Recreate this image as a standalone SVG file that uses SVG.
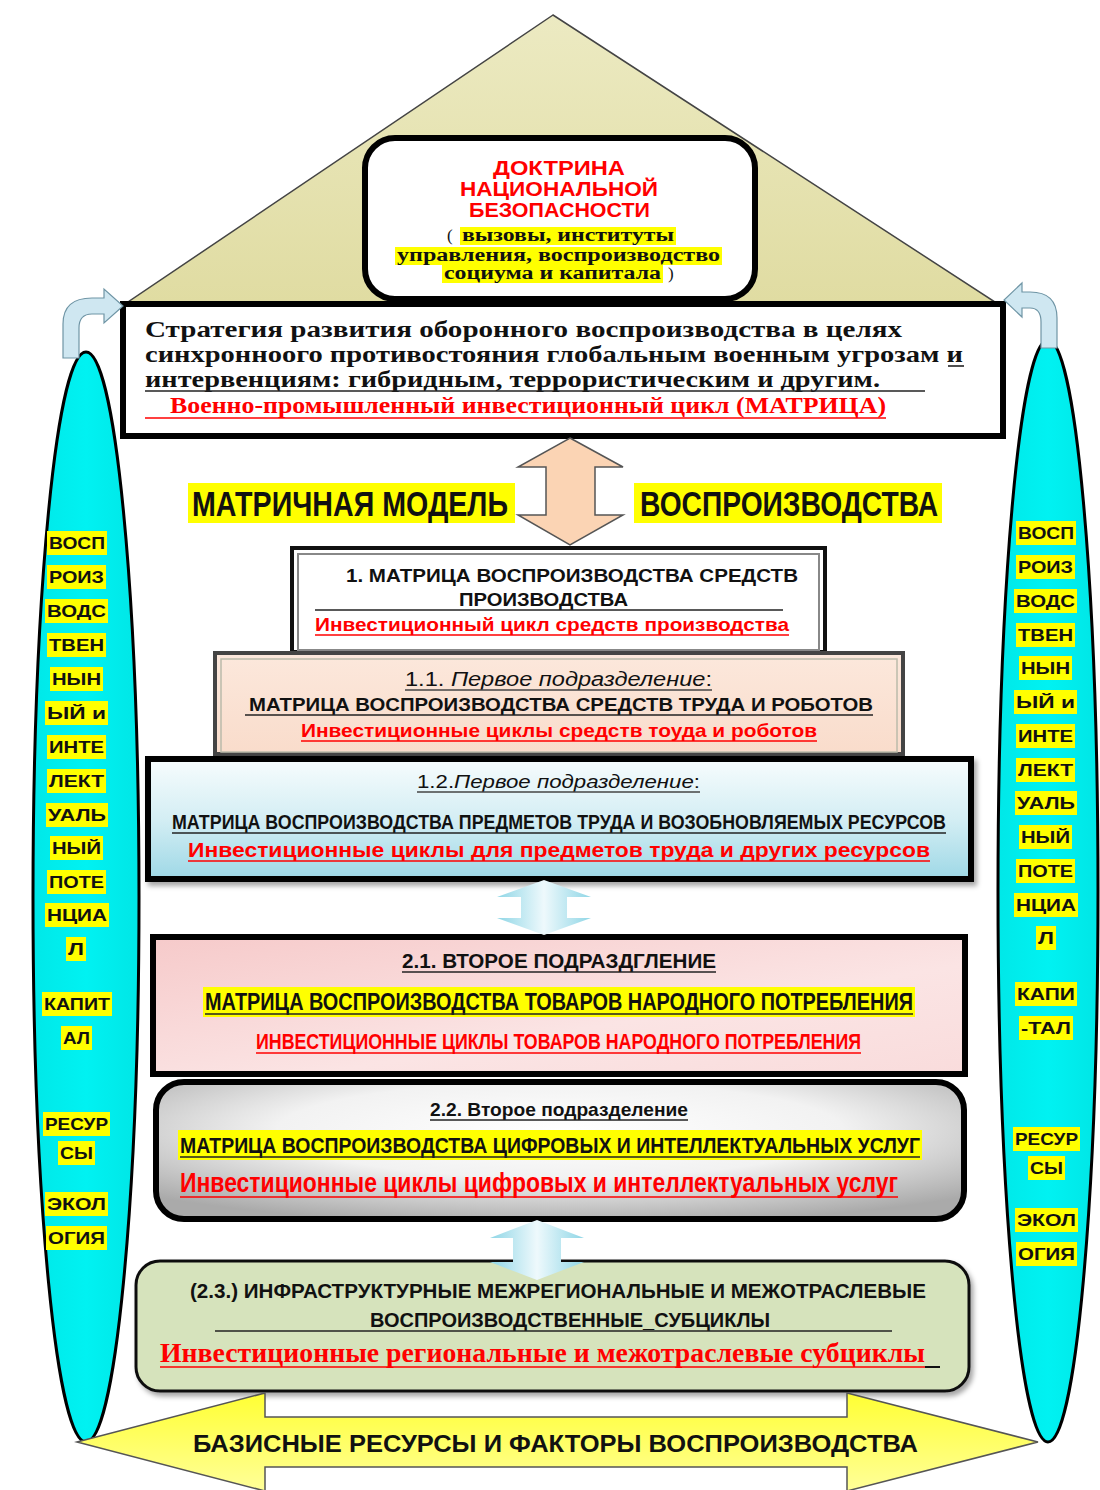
<svg xmlns="http://www.w3.org/2000/svg" width="1100" height="1490" viewBox="0 0 1100 1490">
<defs>
<style>
.sans{font-family:"Liberation Sans",Arial,sans-serif}
.serif{font-family:"Liberation Serif","Times New Roman",serif}
.b{font-weight:bold}
.i{font-style:italic}
.red{fill:#ff0000}
.blk{fill:#111}
.hl{fill:#ffff00}
.ul{stroke:#222;stroke-width:1.6}
.ulr{stroke:#ff0000;stroke-width:1.6}
.side{font-family:"Liberation Sans",Arial,sans-serif;font-weight:bold;font-size:16.5px;fill:#111}
.ell{fill:url(#cyan);stroke:#000;stroke-width:3}
</style>
<linearGradient id="roof" x1="0" y1="0" x2="0" y2="1"><stop offset="0" stop-color="#eceac2"/><stop offset="1" stop-color="#e0dca2"/></linearGradient>
<linearGradient id="cyan" x1="0" y1="0" x2="1" y2="0"><stop offset="0" stop-color="#00e8e8"/><stop offset="0.5" stop-color="#00f2f2"/><stop offset="1" stop-color="#00e6e6"/></linearGradient>
<linearGradient id="peachbox" x1="0" y1="0" x2="0" y2="1"><stop offset="0" stop-color="#fce8dc"/><stop offset="1" stop-color="#f9dccb"/></linearGradient>
<linearGradient id="bluebox" x1="0" y1="0" x2="0" y2="1"><stop offset="0" stop-color="#f7fcfd"/><stop offset="0.5" stop-color="#d4eef4"/><stop offset="1" stop-color="#9ed8e6"/></linearGradient>
<linearGradient id="pinkbox" x1="0" y1="0" x2="1" y2="1"><stop offset="0" stop-color="#f6caca"/><stop offset="0.6" stop-color="#fbe4e4"/><stop offset="1" stop-color="#f9dcdc"/></linearGradient>
<radialGradient id="greybox" cx="0.5" cy="0.35" r="0.7"><stop offset="0" stop-color="#ffffff"/><stop offset="0.5" stop-color="#f2f2f2"/><stop offset="1" stop-color="#aaaaaa"/></radialGradient>
<linearGradient id="bluearrow" x1="0" y1="0" x2="1" y2="0"><stop offset="0" stop-color="#8fd6e6"/><stop offset="0.5" stop-color="#eef9fc"/><stop offset="1" stop-color="#8fd6e6"/></linearGradient>
<linearGradient id="yel" x1="0" y1="0" x2="0" y2="1"><stop offset="0" stop-color="#ffff33"/><stop offset="1" stop-color="#ffff99"/></linearGradient>
<filter id="sh" x="-5%" y="-5%" width="110%" height="120%"><feDropShadow dx="3" dy="4" stdDeviation="2.5" flood-color="#000" flood-opacity="0.35"/></filter>
</defs>
<rect width="1100" height="1490" fill="#ffffff"/>

<g id="roof">
<polygon points="553,15 128,302 995,302" fill="url(#roof)" stroke="#444" stroke-width="1.5"/>
</g>

<g id="left-pillar">
<ellipse class="ell" cx="86" cy="897" rx="53" ry="545"/>
<rect class="hl" x="47" y="531" width="60" height="24"/><text class="side" x="49" y="549" textLength="56" lengthAdjust="spacingAndGlyphs">ВОСП</text>
<rect class="hl" x="47" y="565" width="59" height="24"/><text class="side" x="49" y="583" textLength="55" lengthAdjust="spacingAndGlyphs">РОИЗ</text>
<rect class="hl" x="45" y="599" width="63" height="24"/><text class="side" x="47" y="617" textLength="59" lengthAdjust="spacingAndGlyphs">ВОДС</text>
<rect class="hl" x="47" y="633" width="59" height="24"/><text class="side" x="49" y="651" textLength="55" lengthAdjust="spacingAndGlyphs">ТВЕН</text>
<rect class="hl" x="50" y="667" width="53" height="24"/><text class="side" x="52" y="685" textLength="49" lengthAdjust="spacingAndGlyphs">НЫН</text>
<rect class="hl" x="45" y="701" width="63" height="24"/><text class="side" x="47" y="719" textLength="59" lengthAdjust="spacingAndGlyphs">ЫЙ  и</text>
<rect class="hl" x="47" y="735" width="59" height="24"/><text class="side" x="49" y="753" textLength="55" lengthAdjust="spacingAndGlyphs">ИНТЕ</text>
<rect class="hl" x="47" y="769" width="59" height="24"/><text class="side" x="49" y="787" textLength="55" lengthAdjust="spacingAndGlyphs">ЛЕКТ</text>
<rect class="hl" x="46" y="803" width="62" height="24"/><text class="side" x="48" y="821" textLength="58" lengthAdjust="spacingAndGlyphs">УАЛЬ</text>
<rect class="hl" x="50" y="836" width="53" height="24"/><text class="side" x="52" y="854" textLength="49" lengthAdjust="spacingAndGlyphs">НЫЙ</text>
<rect class="hl" x="47" y="870" width="59" height="24"/><text class="side" x="49" y="888" textLength="55" lengthAdjust="spacingAndGlyphs">ПОТЕ</text>
<rect class="hl" x="45" y="903" width="64" height="24"/><text class="side" x="47" y="921" textLength="60" lengthAdjust="spacingAndGlyphs">НЦИА</text>
<rect class="hl" x="66" y="937" width="20" height="24"/><text class="side" x="68" y="955" textLength="16" lengthAdjust="spacingAndGlyphs">Л</text>
<rect class="hl" x="42" y="992" width="70" height="24"/><text class="side" x="44" y="1010" textLength="66" lengthAdjust="spacingAndGlyphs">КАПИТ</text>
<rect class="hl" x="61" y="1026" width="31" height="24"/><text class="side" x="63" y="1044" textLength="27" lengthAdjust="spacingAndGlyphs">АЛ</text>
<rect class="hl" x="43" y="1112" width="67" height="24"/><text class="side" x="45" y="1130" textLength="63" lengthAdjust="spacingAndGlyphs">РЕСУР</text>
<rect class="hl" x="58" y="1141" width="37" height="24"/><text class="side" x="60" y="1159" textLength="33" lengthAdjust="spacingAndGlyphs">СЫ</text>
<rect class="hl" x="45" y="1192" width="63" height="24"/><text class="side" x="47" y="1210" textLength="59" lengthAdjust="spacingAndGlyphs">ЭКОЛ</text>
<rect class="hl" x="46" y="1226" width="61" height="24"/><text class="side" x="48" y="1244" textLength="57" lengthAdjust="spacingAndGlyphs">ОГИЯ</text>
</g>

<g id="right-pillar">
<ellipse class="ell" cx="1048" cy="891" rx="50" ry="551"/>
<rect class="hl" x="1016" y="521" width="60" height="24"/><text class="side" x="1018" y="539" textLength="56" lengthAdjust="spacingAndGlyphs">ВОСП</text>
<rect class="hl" x="1016" y="555" width="59" height="24"/><text class="side" x="1018" y="573" textLength="55" lengthAdjust="spacingAndGlyphs">РОИЗ</text>
<rect class="hl" x="1014" y="589" width="63" height="24"/><text class="side" x="1016" y="607" textLength="59" lengthAdjust="spacingAndGlyphs">ВОДС</text>
<rect class="hl" x="1016" y="623" width="59" height="24"/><text class="side" x="1018" y="641" textLength="55" lengthAdjust="spacingAndGlyphs">ТВЕН</text>
<rect class="hl" x="1019" y="656" width="53" height="24"/><text class="side" x="1021" y="674" textLength="49" lengthAdjust="spacingAndGlyphs">НЫН</text>
<rect class="hl" x="1014" y="690" width="63" height="24"/><text class="side" x="1016" y="708" textLength="59" lengthAdjust="spacingAndGlyphs">ЫЙ  и</text>
<rect class="hl" x="1016" y="724" width="59" height="24"/><text class="side" x="1018" y="742" textLength="55" lengthAdjust="spacingAndGlyphs">ИНТЕ</text>
<rect class="hl" x="1016" y="758" width="59" height="24"/><text class="side" x="1018" y="776" textLength="55" lengthAdjust="spacingAndGlyphs">ЛЕКТ</text>
<rect class="hl" x="1015" y="791" width="62" height="24"/><text class="side" x="1017" y="809" textLength="58" lengthAdjust="spacingAndGlyphs">УАЛЬ</text>
<rect class="hl" x="1019" y="825" width="53" height="24"/><text class="side" x="1021" y="843" textLength="49" lengthAdjust="spacingAndGlyphs">НЫЙ</text>
<rect class="hl" x="1016" y="859" width="59" height="24"/><text class="side" x="1018" y="877" textLength="55" lengthAdjust="spacingAndGlyphs">ПОТЕ</text>
<rect class="hl" x="1014" y="893" width="64" height="24"/><text class="side" x="1016" y="911" textLength="60" lengthAdjust="spacingAndGlyphs">НЦИА</text>
<rect class="hl" x="1036" y="926" width="20" height="24"/><text class="side" x="1038" y="944" textLength="16" lengthAdjust="spacingAndGlyphs">Л</text>
<rect class="hl" x="1015" y="982" width="62" height="24"/><text class="side" x="1017" y="1000" textLength="58" lengthAdjust="spacingAndGlyphs">КАПИ</text>
<rect class="hl" x="1019" y="1016" width="54" height="24"/><text class="side" x="1021" y="1034" textLength="50" lengthAdjust="spacingAndGlyphs">-ТАЛ</text>
<rect class="hl" x="1013" y="1127" width="67" height="24"/><text class="side" x="1015" y="1145" textLength="63" lengthAdjust="spacingAndGlyphs">РЕСУР</text>
<rect class="hl" x="1028" y="1156" width="37" height="24"/><text class="side" x="1030" y="1174" textLength="33" lengthAdjust="spacingAndGlyphs">СЫ</text>
<rect class="hl" x="1015" y="1208" width="63" height="24"/><text class="side" x="1017" y="1226" textLength="59" lengthAdjust="spacingAndGlyphs">ЭКОЛ</text>
<rect class="hl" x="1016" y="1242" width="61" height="24"/><text class="side" x="1018" y="1260" textLength="57" lengthAdjust="spacingAndGlyphs">ОГИЯ</text>
</g>

<g id="doctrine">
<rect x="365" y="138" width="390" height="161" rx="30" fill="#ffffff" stroke="#000" stroke-width="6"/>
<text class="sans b red" x="493" y="175" font-size="21" textLength="132" lengthAdjust="spacingAndGlyphs">ДОКТРИНА</text>
<text class="sans b red" x="460" y="196" font-size="21" textLength="198" lengthAdjust="spacingAndGlyphs">НАЦИОНАЛЬНОЙ</text>
<text class="sans b red" x="469" y="217" font-size="21" textLength="181" lengthAdjust="spacingAndGlyphs">БЕЗОПАСНОСТИ</text>
<rect class="hl" x="460" y="227" width="216" height="18"/>
<rect class="hl" x="395" y="247" width="327" height="18"/>
<rect class="hl" x="442" y="265" width="221" height="18"/>
<text class="serif blk" x="447" y="241" font-size="17">(</text>
<text class="serif b blk" x="462" y="241" font-size="18" textLength="212" lengthAdjust="spacingAndGlyphs">вызовы, институты</text>
<text class="serif b blk" x="397" y="261" font-size="18" textLength="323" lengthAdjust="spacingAndGlyphs">управления, воспроизводство</text>
<text class="serif b blk" x="444" y="279" font-size="18" textLength="217" lengthAdjust="spacingAndGlyphs">социума и капитала</text>
<text class="serif blk" x="668" y="279" font-size="17">)</text>
</g>

<g id="strategy">
<rect x="123" y="304" width="880" height="132" fill="#ffffff" stroke="#000" stroke-width="6"/>
<text class="serif b blk" x="145" y="337" font-size="24" textLength="757" lengthAdjust="spacingAndGlyphs">Стратегия развития  оборонного воспроизводства  в целях</text>
<text class="serif b blk" x="145" y="362" font-size="24" textLength="818" lengthAdjust="spacingAndGlyphs">синхронноого противостояния глобальным военным угрозам и</text>
<line class="ul" x1="948" y1="366" x2="964" y2="366"/>
<text class="serif b blk" x="145" y="387" font-size="24" textLength="735" lengthAdjust="spacingAndGlyphs">интервенциям: гибридным, террористическим и другим.</text>
<line class="ul" x1="145" y1="391" x2="925" y2="391"/>
<text class="serif b red" x="170" y="413" font-size="24" textLength="716" lengthAdjust="spacingAndGlyphs">Военно-промышленный  инвестиционный цикл (МАТРИЦА)</text>
<line class="ulr" x1="145" y1="418" x2="886" y2="418"/>
</g>

<g id="title">
<rect class="hl" x="188" y="483" width="327" height="40"/>
<text class="sans b blk" x="192" y="516" font-size="35" textLength="316" lengthAdjust="spacingAndGlyphs">МАТРИЧНАЯ  МОДЕЛЬ</text>
<rect class="hl" x="634" y="483" width="308" height="40"/>
<text class="sans b blk" x="640" y="516" font-size="35" textLength="298" lengthAdjust="spacingAndGlyphs">ВОСПРОИЗВОДСТВА</text>
</g>

<g id="box1">
<rect x="292" y="548" width="533" height="104" fill="#ffffff" stroke="#111" stroke-width="4"/>
<rect x="298" y="554" width="521" height="96" fill="none" stroke="#888" stroke-width="2"/>
<text class="sans b blk" x="346" y="582" font-size="19" textLength="452" lengthAdjust="spacingAndGlyphs">1. МАТРИЦА ВОСПРОИЗВОДСТВА  СРЕДСТВ</text>
<text class="sans b blk" x="459" y="606" font-size="19" textLength="169" lengthAdjust="spacingAndGlyphs">ПРОИЗВОДСТВА</text>
<line class="ul" x1="315" y1="610" x2="783" y2="610"/>
<text class="sans b red" x="315" y="631" font-size="19" textLength="474" lengthAdjust="spacingAndGlyphs">Инвестиционный цикл средств производства</text>
<line class="ulr" x1="315" y1="635" x2="789" y2="635"/>
</g>

<g id="box11">
<rect x="215" y="653" width="688" height="101" fill="url(#peachbox)" stroke="#444" stroke-width="4"/>
<rect x="221" y="659" width="676" height="93" fill="none" stroke="#bba" stroke-width="1.5"/>
<text class="sans blk" x="405" y="686" font-size="20" textLength="307" lengthAdjust="spacingAndGlyphs">1.1. <tspan class="i">Первое подразделение</tspan>:</text>
<line stroke="#444" stroke-width="1.3" x1="405" y1="690" x2="712" y2="690"/>
<text class="sans b blk" x="249" y="711" font-size="19" textLength="624" lengthAdjust="spacingAndGlyphs">МАТРИЦА ВОСПРОИЗВОДСТВА СРЕДСТВ ТРУДА И РОБОТОВ</text>
<line class="ul" x1="245" y1="715" x2="873" y2="715"/>
<text class="sans b red" x="301" y="737" font-size="19" textLength="516" lengthAdjust="spacingAndGlyphs">Инвестиционные циклы средств тоуда и роботов</text>
<line class="ulr" x1="301" y1="741" x2="817" y2="741"/>
</g>

<g id="box12">
<rect x="148" y="759" width="823" height="120" fill="url(#bluebox)" stroke="#000" stroke-width="6" filter="url(#sh)"/>
<text class="sans blk" x="417" y="788" font-size="19" textLength="283" lengthAdjust="spacingAndGlyphs">1.2.<tspan class="i">Первое подразделение</tspan>:</text>
<line stroke="#444" stroke-width="1.3" x1="417" y1="792" x2="700" y2="792"/>
<text class="sans b blk" x="172" y="829" font-size="20" textLength="774" lengthAdjust="spacingAndGlyphs">МАТРИЦА ВОСПРОИЗВОДСТВА ПРЕДМЕТОВ ТРУДА И  ВОЗОБНОВЛЯЕМЫХ РЕСУРСОВ</text>
<line class="ul" x1="172" y1="833" x2="946" y2="833"/>
<text class="sans b red" x="188" y="857" font-size="21" textLength="742" lengthAdjust="spacingAndGlyphs">Инвестиционные циклы для предметов труда и других ресурсов</text>
<line class="ulr" x1="188" y1="861" x2="930" y2="861"/>
</g>

<g id="box21">
<rect x="153" y="937" width="812" height="137" fill="url(#pinkbox)" stroke="#000" stroke-width="6"/>
<text class="sans b blk" x="402" y="968" font-size="21" textLength="314" lengthAdjust="spacingAndGlyphs">2.1. ВТОРОЕ ПОДРАЗДГЛЕНИЕ</text>
<line class="ul" x1="402" y1="972" x2="716" y2="972"/>
<rect class="hl" x="203" y="987" width="712" height="30"/>
<text class="sans b blk" x="205" y="1010" font-size="23" textLength="708" lengthAdjust="spacingAndGlyphs">МАТРИЦА ВОСПРОИЗВОДСТВА ТОВАРОВ НАРОДНОГО ПОТРЕБЛЕНИЯ</text>
<line class="ul" x1="205" y1="1014" x2="913" y2="1014"/>
<text class="sans b red" x="256" y="1049" font-size="22" textLength="605" lengthAdjust="spacingAndGlyphs">ИНВЕСТИЦИОННЫЕ ЦИКЛЫ ТОВАРОВ НАРОДНОГО ПОТРЕБЛЕНИЯ</text>
<line class="ulr" x1="256" y1="1053" x2="861" y2="1053"/>
</g>

<g id="box22">
<rect x="156" y="1082" width="808" height="137" rx="28" fill="url(#greybox)" stroke="#000" stroke-width="6"/>
<text class="sans b blk" x="430" y="1116" font-size="19" textLength="258" lengthAdjust="spacingAndGlyphs">2.2. Второе подразделение</text>
<line class="ul" x1="430" y1="1120" x2="688" y2="1120"/>
<rect class="hl" x="178" y="1130" width="744" height="30"/>
<text class="sans b blk" x="180" y="1153" font-size="22" textLength="740" lengthAdjust="spacingAndGlyphs">МАТРИЦА ВОСПРОИЗВОДСТВА ЦИФРОВЫХ И  ИНТЕЛЛЕКТУАЛЬНЫХ УСЛУГ</text>
<line class="ul" x1="180" y1="1157" x2="920" y2="1157"/>
<text class="sans b red" x="180" y="1192" font-size="27" textLength="718" lengthAdjust="spacingAndGlyphs">Инвестиционные циклы цифровых и интеллектуальных услуг</text>
<line class="ulr" x1="180" y1="1197" x2="898" y2="1197"/>
</g>

<g id="box23">
<rect x="136" y="1261" width="833" height="130" rx="24" fill="#d6e3bc" stroke="#111" stroke-width="3" filter="url(#sh)"/>
<text class="sans b blk" x="190" y="1298" font-size="20" textLength="736" lengthAdjust="spacingAndGlyphs">(2.3.) ИНФРАСТРУКТУРНЫЕ  МЕЖРЕГИОНАЛЬНЫЕ И МЕЖОТРАСЛЕВЫЕ</text>
<text class="sans b blk" x="370" y="1327" font-size="20" textLength="400" lengthAdjust="spacingAndGlyphs">ВОСПРОИЗВОДСТВЕННЫЕ_СУБЦИКЛЫ</text>
<line class="ul" x1="215" y1="1331" x2="892" y2="1331"/>
<text class="serif b red" x="160" y="1362" font-size="27" textLength="765" lengthAdjust="spacingAndGlyphs">Инвестиционные  региональные и межотраслевые субциклы</text>
<line class="ulr" x1="160" y1="1367" x2="925" y2="1367"/>
<line stroke="#111" stroke-width="2" x1="925" y1="1367" x2="940" y2="1367"/>
</g>

<g id="connectors">
<path d="M63 358 L63 324 Q63 298 92 298 L104 298 L104 289 L123 306 L104 323 L104 314 L92 314 Q79 314 79 328 L79 358 Z" fill="#cfe7f1" stroke="#6f95a5" stroke-width="1.2"/>
<path d="M1057 348 L1057 318 Q1057 292 1030 292 L1022 292 L1022 283 L1004 300 L1022 317 L1022 308 L1030 308 Q1041 308 1041 322 L1041 348 Z" fill="#cfe7f1" stroke="#6f95a5" stroke-width="1.2"/>
<path d="M570 438 L623 467 L595 467 L595 515 L623 515 L570 545 L518 515 L546 515 L546 467 L518 467 Z" fill="#fbd4b4" stroke="#555" stroke-width="1.5"/>
<path d="M544 880 L591 897 L567 897 L567 918 L591 918 L544 935 L497 918 L521 918 L521 897 L497 897 Z" fill="url(#bluearrow)"/>
<path d="M537 1220 L584 1238 L561 1238 L561 1262 L584 1262 L537 1280 L490 1262 L513 1262 L513 1238 L490 1238 Z" fill="url(#bluearrow)"/>
<path d="M77 1442 L265 1393 L265 1417 L847 1417 L847 1393 L1038 1442 L847 1491 L847 1467 L265 1467 L265 1491 Z" fill="url(#yel)" stroke="#555" stroke-width="1.5"/>
</g>

<g id="base">
<text class="sans b blk" x="193" y="1452" font-size="24" textLength="725" lengthAdjust="spacingAndGlyphs">БАЗИСНЫЕ РЕСУРСЫ И ФАКТОРЫ  ВОСПРОИЗВОДСТВА</text>
</g>
</svg>
